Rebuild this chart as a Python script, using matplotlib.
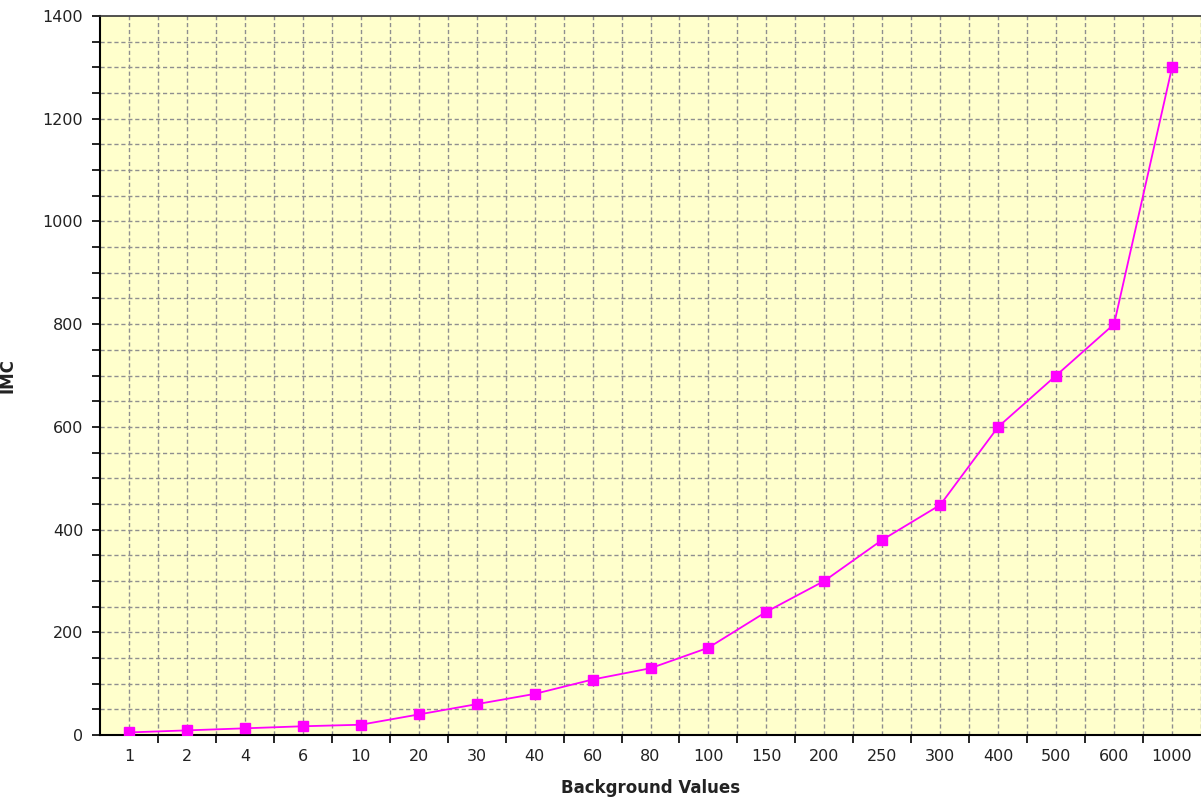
import numpy as np
import matplotlib.pyplot as plt
from matplotlib.ticker import MultipleLocator, FixedLocator

plt.rcParams['font.family'] = ['DejaVu Sans']

# data
background = ['1', '2', '4', '6', '10', '20', '30', '40', '60', '80',
              '100', '150', '200', '250', '300', '400', '500', '600', '1000']
imc = [5, 9, 13, 17, 20, 40, 60, 80, 108, 130,
       170, 240, 300, 380, 448, 600, 700, 800, 1300]

fig = plt.figure(figsize=(12.01, 7.98), dpi=100)
ax = fig.add_axes([100 / 1201, 63 / 798, 1101 / 1201, 719 / 798])
ax.set_facecolor('#ffffcc')

x = np.arange(len(background))
ax.plot(x, imc, color='#ff00ff', linewidth=1.3, marker='s',
        markersize=7, markerfacecolor='#ff00ff', markeredgecolor='#ff00ff',
        zorder=3)

ax.set_xlim(-0.5, len(background) - 0.5)
ax.set_ylim(0, 1400)

# x: labels at category centres, ticks at boundaries
ax.set_xticks(x)
ax.set_xticklabels(background)
ax.tick_params(axis='x', which='major', length=0, pad=10)
ax.xaxis.set_minor_locator(FixedLocator(np.arange(0.5, len(background) - 0.5, 1)))
ax.tick_params(axis='x', which='minor', length=6, width=1.2, color='black')

ax.yaxis.set_major_locator(MultipleLocator(200))
ax.yaxis.set_minor_locator(MultipleLocator(50))
ax.tick_params(axis='y', which='both', length=6, width=1.2, color='black')
ax.tick_params(axis='y', which='major', pad=6)
ax.tick_params(axis='both', labelsize=11.5, labelcolor='#222222')

# dashed grid at every half category and every 50
for gx in np.arange(0, len(background), 0.5):
    ax.axvline(gx, color='#8f8f8f', linestyle=(0, (3, 2)), linewidth=1, zorder=1)
for gy in range(50, 1400, 50):
    ax.axhline(gy, color='#8f8f8f', linestyle=(0, (3, 2)), linewidth=1, zorder=1)

for side in ['left', 'bottom']:
    ax.spines[side].set_linewidth(1.5)
    ax.spines[side].set_color('black')
ax.spines['top'].set_linewidth(1.2)
ax.spines['top'].set_color('#333333')
ax.spines['right'].set_visible(False)

ax.set_xlabel('Background Values', fontsize=12, fontweight='bold', color='#222222')
ax.xaxis.set_label_coords(0.5, -53 / 719, transform=ax.transAxes)
ax.xaxis.label.set_va('center')
ax.set_ylabel('IMC', fontsize=12, fontweight='bold', color='#222222')
ax.yaxis.set_label_coords(-83 / 1101, 0.5, transform=ax.transAxes)
ax.yaxis.label.set_ha('center')

fig.savefig('out.png', dpi=100)
